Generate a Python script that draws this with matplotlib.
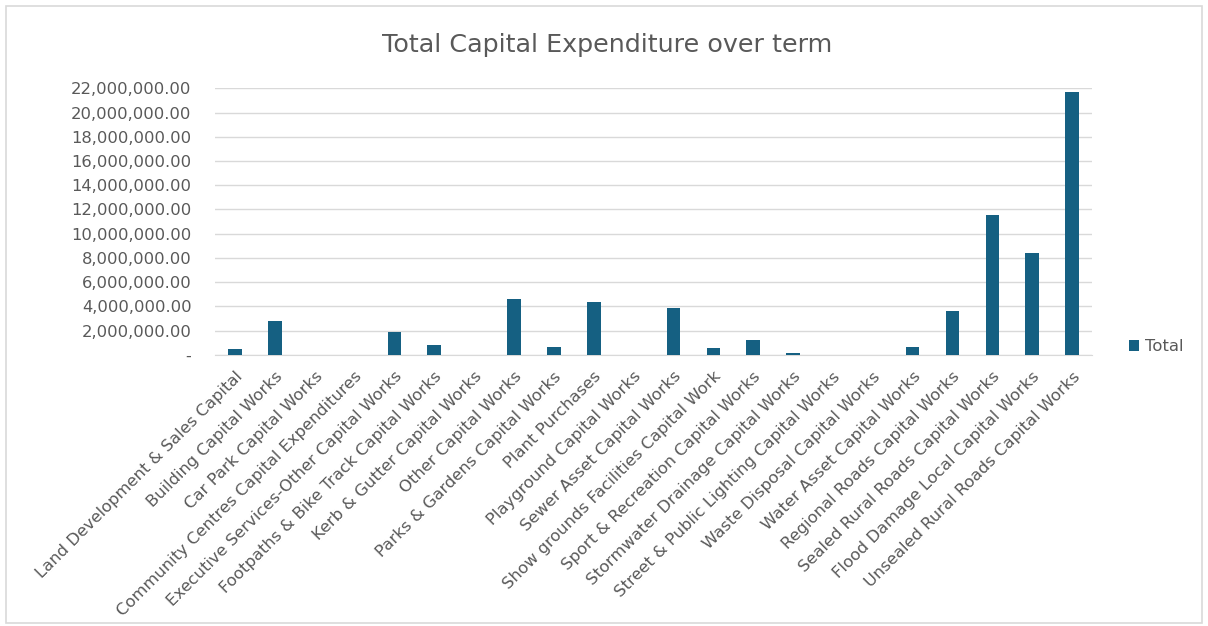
import matplotlib.pyplot as plt
from matplotlib.ticker import FuncFormatter, MultipleLocator
from matplotlib.patches import Rectangle

categories = [
    "Land Development & Sales Capital",
    "Building Capital Works",
    "Car Park Capital Works",
    "Community Centres Capital Expenditures",
    "Executive Services-Other Capital Works",
    "Footpaths & Bike Track Capital Works",
    "Kerb & Gutter Capital Works",
    "Other Capital Works",
    "Parks & Gardens Capital Works",
    "Plant Purchases",
    "Playground Capital Works",
    "Sewer Asset Capital Works",
    "Show grounds Facilities Capital Work",
    "Sport & Recreation Capital Works",
    "Stormwater Drainage Capital Works",
    "Street & Public Lighting Capital Works",
    "Waste Disposal Capital Works",
    "Water Asset Capital Works",
    "Regional Roads Capital Works",
    "Sealed Rural Roads Capital Works",
    "Flood Damage Local Capital Works",
    "Unsealed Rural Roads Capital Works",
]
totals = [
    450000, 2800000, 0, 0, 1930000, 830000, 0, 4600000, 690000, 4370000,
    0, 3900000, 550000, 1200000, 150000, 0, 0, 670000, 3650000,
    11550000, 8390000, 21720000,
]

grey = "#595959"
bar_color = "#156082"

fig = plt.figure(figsize=(12.08, 6.26), dpi=100)
ax = fig.add_axes([0.178, 0.433, 0.726, 0.426])

x = range(len(categories))
ax.bar(x, totals, width=0.34, color=bar_color, label="Total", zorder=3)

ax.set_xlim(-0.5, len(categories) - 0.5)
ax.set_ylim(0, 22000000)
ax.yaxis.set_major_locator(MultipleLocator(2000000))
ax.yaxis.set_major_formatter(FuncFormatter(lambda v, p: "-" if v == 0 else f"{v:,.2f}"))
ax.grid(axis="y", color="#d9d9d9", linewidth=1, zorder=0)

for s in ["top", "right", "left"]:
    ax.spines[s].set_visible(False)
ax.spines["bottom"].set_color("#d9d9d9")

ax.tick_params(axis="y", length=0, pad=17, labelsize=11.8, labelcolor=grey)
ax.tick_params(axis="x", length=0, pad=10, labelsize=11.8, labelcolor=grey)
ax.set_xticks(list(x))
ax.set_xticklabels(categories, rotation=45, ha="right", va="top", rotation_mode="anchor")

fig.text(0.503, 0.928, "Total Capital Expenditure over term", ha="center", va="center",
         fontsize=18.3, color=grey)

ax.legend(loc="center left", bbox_to_anchor=(1.025, 0.03), frameon=False,
          fontsize=11.8, labelcolor=grey, handlelength=0.6, handleheight=0.6,
          handletextpad=0.4)

fig.patches.append(Rectangle((0.005, 0.005), 0.99, 0.985, transform=fig.transFigure,
                             fill=False, edgecolor="#d9d9d9", linewidth=1.2))

plt.savefig("out.png", dpi=100)
